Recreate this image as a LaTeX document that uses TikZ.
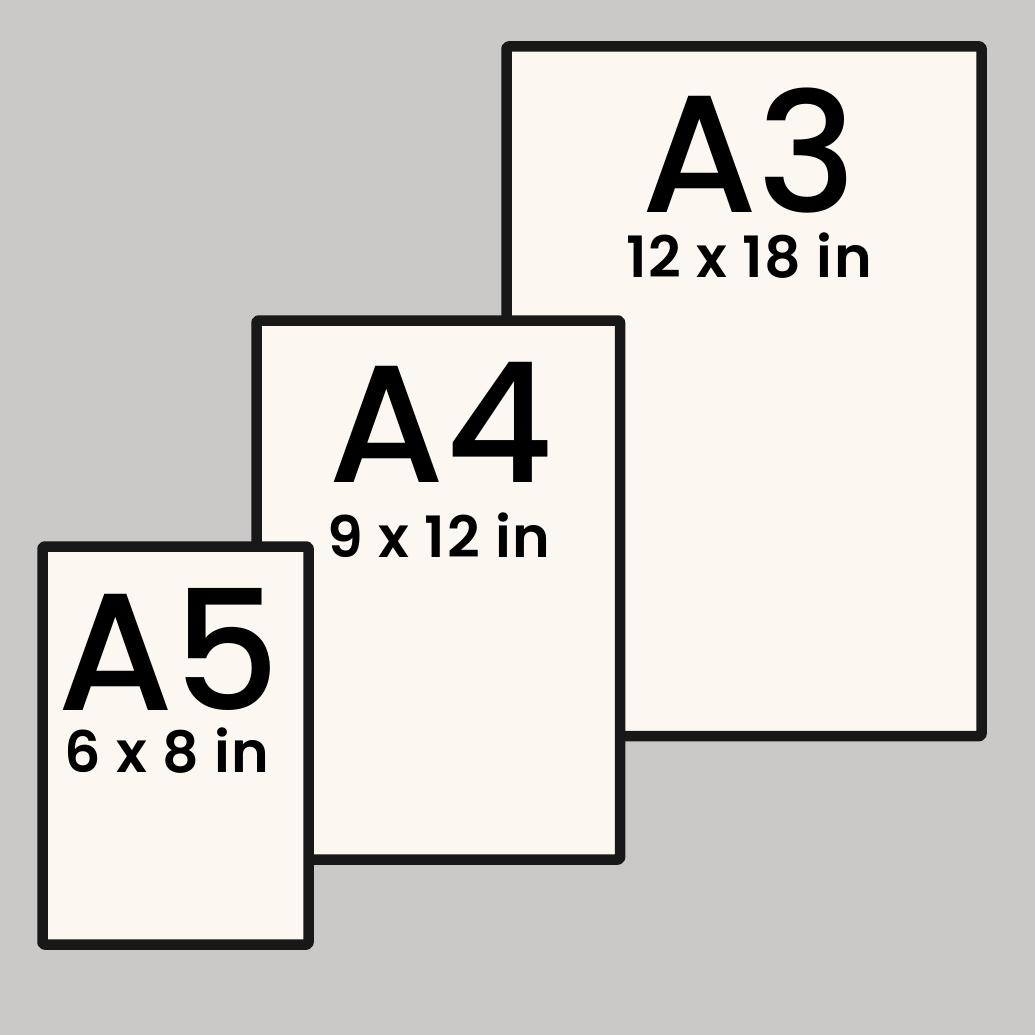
\documentclass[tikz,border=0pt]{standalone}
\usepackage{fontspec}
\setmainfont{Poppins}
\newfontfamily\psfont{Poppins Medium}
\newfontfamily\pssizefont{Poppins SemiBold}[LetterSpace=3]
\usetikzlibrary{positioning}
\definecolor{WallCol}{RGB}{202,201,199}
\definecolor{PaperCol}{RGB}{253,247,242}
\definecolor{EdgeCol}{RGB}{24,24,24}
\tikzset{
  pssheet/.style={fill=PaperCol, draw=EdgeCol, line width=10.5pt, rounded corners=2pt, line join=round},
  psname/.style={anchor=base, inner sep=0pt, text=black, font=\psfont\fontsize{167}{167}\selectfont},
  pssize/.style={anchor=base, inner sep=0pt, text=black, font=\pssizefont\fontsize{57}{57}\selectfont}
}
\begin{document}
\begin{tikzpicture}[x=1pt,y=-1pt]
  \fill[WallCol] (0,0) rectangle (1035,1035);
  \useasboundingbox (0,0) rectangle (1035,1035);
  % sheets, largest at the back
  \draw[pssheet] (506.5,46.5) rectangle (981.5,736);
  \draw[pssheet] (256.5,320.5) rectangle (620,859.5);
  \draw[pssheet] (42.5,546.5) rectangle (308.5,944.5);
  % labels
  \node[psname] (a3) at (749,212) {A3};
  \node[pssize] (a3size) at (749,277) {12 x 18 in};
  \node[psname] (a4) at (441,482) {A4};
  \node[pssize] (a4size) at (439,557) {9 x 12 in};
  \node[psname] (a5) at (169,710) {A5};
  \node[pssize] (a5size) at (167,772) {6 x 8 in};
\end{tikzpicture}
\end{document}
